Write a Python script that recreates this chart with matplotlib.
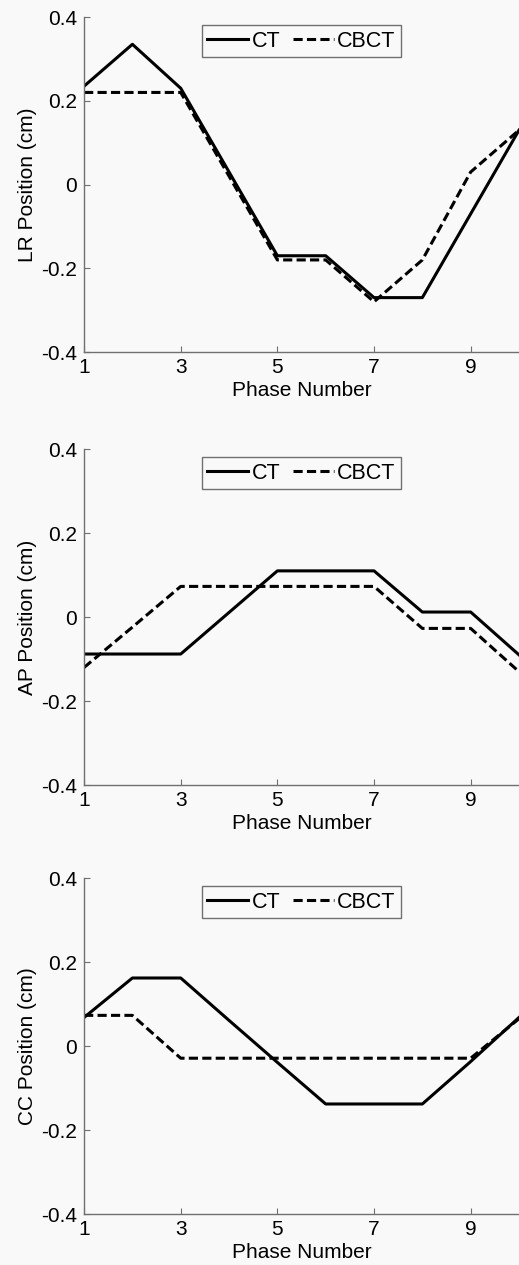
import matplotlib.pyplot as plt

phase = [1, 2, 3, 4, 5, 6, 7, 8, 9, 10]

lr_ct = [0.235, 0.335, 0.23, 0.03, -0.17, -0.17, -0.27, -0.27, -0.07, 0.13]
lr_cbct = [0.22, 0.22, 0.22, 0.02, -0.18, -0.18, -0.28, -0.18, 0.03, 0.13]

ap_ct = [-0.088, -0.088, -0.088, 0.011, 0.11, 0.11, 0.11, 0.012, 0.012, -0.09]
ap_cbct = [-0.12, -0.024, 0.073, 0.073, 0.073, 0.073, 0.073, -0.027, -0.027, -0.13]

cc_ct = [0.068, 0.162, 0.162, 0.061, -0.039, -0.138, -0.138, -0.138, -0.037, 0.068]
cc_cbct = [0.073, 0.073, -0.029, -0.029, -0.029, -0.029, -0.029, -0.029, -0.029, 0.065]

ylabels = ["LR Position (cm)", "AP Position (cm)", "CC Position (cm)"]
xticks = [1, 3, 5, 7, 9]
yticks = [-0.4, -0.2, 0, 0.2, 0.4]
ytick_labels = ["-0.4", "-0.2", "0", "0.2", "0.4"]

plt.rcParams['font.family'] = ['Liberation Sans', 'DejaVu Sans']
bg = "#f9f9f9"
gray = "#707070"
fs = 15

fig = plt.figure(figsize=(5.19, 12.65), dpi=100, facecolor=bg)

# axes boxes in figure fractions
boxes = [(0.162, 0.7217, 0.838, 0.2648),
         (0.162, 0.3794, 0.838, 0.2656),
         (0.162, 0.0403, 0.838, 0.2656)]
series = [(lr_ct, lr_cbct), (ap_ct, ap_cbct), (cc_ct, cc_cbct)]

for box, (ct, cbct), ylab in zip(boxes, series, ylabels):
    ax = fig.add_axes(box)
    ax.set_facecolor(bg)
    ax.plot(phase, ct, color="black", lw=2.2, label="CT")
    ax.plot(phase, cbct, color="black", lw=2.2, ls=(0, (3, 1.4)), label="CBCT")
    ax.set_xlim(1, 10)
    ax.set_ylim(-0.4, 0.4)
    ax.set_xticks(xticks)
    ax.set_yticks(yticks)
    ax.set_yticklabels(ytick_labels)
    ax.tick_params(direction="in", length=4, color=gray, labelsize=fs)
    ax.tick_params(axis="y", pad=5)
    ax.tick_params(axis="x", pad=4)
    for side in ["top", "right"]:
        ax.spines[side].set_visible(False)
    for side in ["left", "bottom"]:
        ax.spines[side].set_color(gray)
        ax.spines[side].set_linewidth(1.0)
    ax.set_xlabel("Phase Number", fontsize=fs, labelpad=3)
    ax.set_ylabel(ylab, fontsize=fs, labelpad=3)
    leg = ax.legend(loc="upper center", bbox_to_anchor=(0.5, 0.975), ncol=2,
                    fontsize=15.5, handlelength=1.9, handletextpad=0.15,
                    columnspacing=0.6, fancybox=False, borderpad=0.25,
                    borderaxespad=0)
    leg.get_frame().set_edgecolor(gray)
    leg.get_frame().set_facecolor(bg)
    leg.get_frame().set_alpha(1)

plt.savefig("out.png", dpi=100, facecolor=bg)
